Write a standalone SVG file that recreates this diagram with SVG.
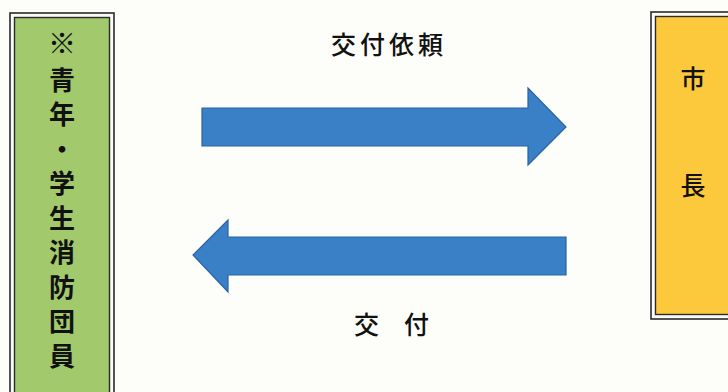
<svg xmlns="http://www.w3.org/2000/svg" width="728" height="392" viewBox="0 0 728 392">
<style>
.frame{fill:#fbfbf6;stroke:#2a2a30;stroke-width:1.6}
.inner{stroke:#2a2a30;stroke-width:1.4}
.jp{font-family:"Noto Sans CJK JP","Noto Sans CJK SC",sans-serif;fill:#111}
.col{font-size:26px;font-weight:bold;text-anchor:middle}
.arrow{fill:#3a80c6;stroke:#2a62a2;stroke-width:1.2}
</style>
<rect x="0" y="0" width="728" height="392" fill="#fdfdf9"/>
<g id="youth">
<rect class="frame" x="10" y="13" width="104" height="400"/>
<rect class="inner" x="14.5" y="17.5" width="95" height="400" fill="#a2c96c"/>
<text class="jp col" x="62" y="54" style="font-size:28px">※</text>
<text class="jp col" x="62" y="89.5">青</text>
<text class="jp col" x="62" y="124">年</text>
<text class="jp col" x="62" y="158.5">・</text>
<text class="jp col" x="62" y="193">学</text>
<text class="jp col" x="62" y="227.5">生</text>
<text class="jp col" x="62" y="262">消</text>
<text class="jp col" x="62" y="296.5">防</text>
<text class="jp col" x="62" y="331">団</text>
<text class="jp col" x="62" y="365.5">員</text>
</g>
<g id="mayor">
<rect class="frame" x="651" y="12" width="100" height="307"/>
<rect class="inner" x="655.5" y="16.5" width="95" height="298" fill="#fdc93c"/>
<text class="jp" font-size="25" font-weight="500" x="693" y="87.5" text-anchor="middle">市</text>
<text class="jp" font-size="25" font-weight="500" x="693" y="194.5" text-anchor="middle">長</text>
</g>
<g id="connectors">
<polygon class="arrow" points="202,108 528,108 528,88 566,127 528,165 528,146 202,146"/>
<polygon class="arrow" points="566,237 228,237 228,220 193,255 228,292 228,275 566,275"/>
<text class="jp" font-size="25" font-weight="500" x="331" y="53.5" letter-spacing="4">交付依頼</text>
<text class="jp" font-size="25" font-weight="500" x="354" y="334">交</text>
<text class="jp" font-size="25" font-weight="500" x="404" y="334">付</text>
</g>
</svg>
